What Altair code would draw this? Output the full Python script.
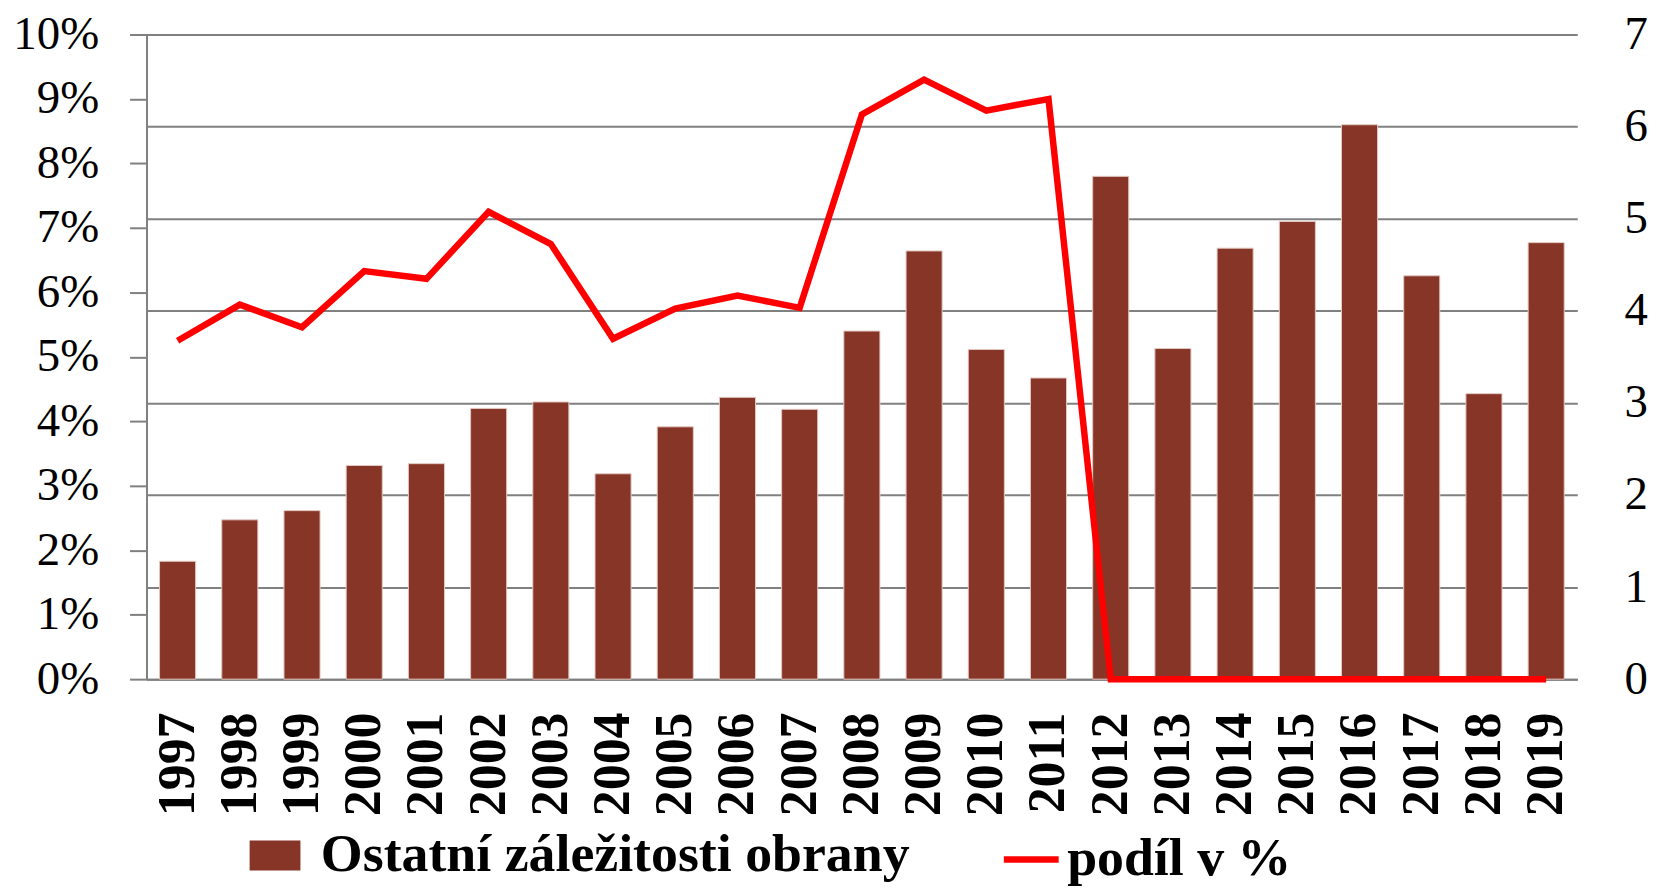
import altair as alt
import pandas as pd

years = ["1997", "1998", "1999", "2000", "2001", "2002", "2003", "2004", "2005",
         "2006", "2007", "2008", "2009", "2010", "2011", "2012", "2013", "2014",
         "2015", "2016", "2017", "2018", "2019"]
ostatni = [1.28, 1.73, 1.83, 2.32, 2.34, 2.94, 3.01, 2.23, 2.74, 3.06, 2.93, 3.78,
           4.65, 3.58, 3.27, 5.46, 3.59, 4.68, 4.97, 6.02, 4.38, 3.10, 4.74]
podil = [5.25, 5.81, 5.46, 6.33, 6.21, 7.25, 6.75, 5.28, 5.75, 5.95, 5.76, 8.76,
         9.30, 8.82, 9.00, 0, 0, 0, 0, 0, 0, 0, 0]
bar_name = "Ostatní záležitosti obrany"
line_name = "podíl v %"
left_ticks = [0, 1, 2, 3, 4, 5, 6, 7, 8, 9, 10]
right_ticks = [0, 1, 2, 3, 4, 5, 6, 7]

df = pd.DataFrame({"year": years, "ostatni": ostatni, "podil": podil})
df["bar_name"] = bar_name
df["line_name"] = line_name

GRAY = "#808080"
FONT = "Liberation Serif"

x = alt.X(
    "year:N", sort=years,
    scale=alt.Scale(paddingInner=0.42, paddingOuter=0.21),
    axis=alt.Axis(title=None, labelAngle=270, labelFont=FONT, labelFontWeight="bold",
                  labelFontSize=52, labelColor="black", ticks=False, tickSize=0,
                  labelPadding=33, domainColor=GRAY, domainWidth=2,
                  labelAlign="right", labelBaseline="middle", grid=False),
)

base = alt.Chart(df)

bars = base.mark_bar(stroke="#e3c9c2", strokeWidth=1).encode(
    x=x,
    y=alt.Y("ostatni:Q", scale=alt.Scale(domain=[0, 7], nice=False),
            axis=alt.Axis(orient="right", values=right_ticks, grid=True, gridColor=GRAY,
                          gridWidth=2, domain=False, ticks=False, tickSize=0,
                          labelPadding=47, labelFont=FONT, labelFontSize=47,
                          labelColor="black", title=None)),
    fill=alt.Fill("bar_name:N", scale=alt.Scale(domain=[bar_name], range=["#863526"]),
                  legend=alt.Legend(title=None, orient="none", legendX=102, legendY=797,
                                    symbolType="M-1,-0.59H1V0.59H-1Z", symbolSize=2601,
                                    symbolStrokeWidth=0, labelFont=FONT,
                                    labelFontWeight="bold", labelFontSize=54,
                                    labelColor="black", labelLimit=1000, labelOffset=19,
                                    padding=0)),
)

line = base.mark_line(strokeWidth=6.5).encode(
    x=x,
    y=alt.Y("podil:Q", scale=alt.Scale(domain=[0, 10], nice=False),
            axis=alt.Axis(orient="left", values=left_ticks, labelExpr="datum.value + '%'",
                          grid=False, tickSize=17, tickColor=GRAY, tickWidth=2,
                          domainColor=GRAY, domainWidth=2, labelPadding=31,
                          labelFont=FONT, labelFontSize=47, labelColor="black",
                          title=None)),
    stroke=alt.Stroke("line_name:N", scale=alt.Scale(domain=[line_name], range=["#ff0000"]),
                      legend=alt.Legend(title=None, orient="none", legendX=857, legendY=797,
                                        symbolType="stroke", symbolStrokeWidth=6.5,
                                        symbolSize=3025, labelFont=FONT,
                                        labelFontWeight="bold", labelFontSize=54,
                                        labelColor="black", labelLimit=1000, labelOffset=5,
                                        padding=0)),
)

chart = alt.layer(bars, line).resolve_scale(y="independent").properties(
    width=1436, height=647,
    autosize=alt.AutoSizeParams(type="none"),
    padding={"left": 139, "top": 25, "right": 75, "bottom": 208},
    background="white",
).configure_view(stroke=None)

chart.save("out.html", embed_options={"renderer": "svg", "actions": False})
